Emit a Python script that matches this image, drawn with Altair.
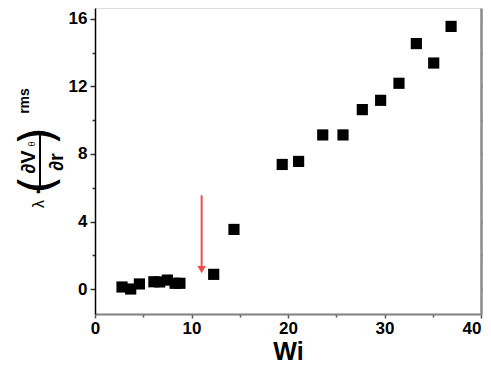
import altair as alt
import pandas as pd

# Data
wi = [2.8, 3.7, 4.6, 6.1, 6.7, 7.5, 8.3, 8.8, 12.3, 14.4,
      19.4, 21.1, 23.6, 25.7, 27.7, 29.6, 31.5, 33.3, 35.1, 36.9]
val = [0.12, 0.0, 0.3, 0.43, 0.42, 0.53, 0.34, 0.34, 0.87, 3.53,
       7.38, 7.56, 9.13, 9.13, 10.63, 11.18, 12.19, 14.54, 13.39, 15.56]

arrow_x = [11.05]
arrow_top = [5.55]
arrow_bottom = [1.3]
arrow_head = [1.15]

x_ticks = [0, 5, 10, 15, 20, 25, 30, 35, 40]
y_ticks = [0, 2, 4, 6, 8, 10, 12, 14, 16]

df = pd.DataFrame({"wi": wi, "val": val})
arrow_df = pd.DataFrame({"x": arrow_x, "y1": arrow_top, "y2": arrow_bottom, "yh": arrow_head})

FONT = "Liberation Sans"
xscale = alt.Scale(domain=[0, 40], nice=False, zero=False)
yscale = alt.Scale(domain=[-1.48, 16.65], nice=False, zero=False)

x_axis = alt.Axis(
    values=x_ticks,
    labelExpr="datum.value % 10 === 0 ? datum.label : ''",
    tickSize={"condition": {"test": "datum.value % 10 === 0", "value": 4}, "value": 3},
    title="Wi", titleFont=FONT, titleFontSize=25, titleFontWeight="bold",
    titlePadding=3, titleColor="black",
    labelFont=FONT, labelFontSize=17, labelFontWeight="bold", labelColor="black",
    labelAlign={"condition": {"test": "datum.value === 40", "value": "right"}, "value": "center"},
    labelPadding=2, grid=False, domainColor="#808080", domainWidth=2,
    tickColor="#555555", tickWidth=1.5, labelFlush=False,
)
y_axis = alt.Axis(
    values=y_ticks,
    labelExpr="datum.value % 4 === 0 ? datum.label : ''",
    tickSize={"condition": {"test": "datum.value % 4 === 0", "value": 5}, "value": 3},
    title=None, labelFont=FONT, labelFontSize=17, labelFontWeight="bold",
    labelColor="black", labelPadding=3, grid=False, domainColor="black",
    domainWidth=1.5, tickColor="#333333", tickWidth=1.5,
)
y_axis_right = alt.Axis(
    orient="right", values=y_ticks, labels=False,
    title=None, grid=False, domainColor="#8a8a8a", domainWidth=2.5,
    tickColor="#9a9a9a", tickSize=2, tickWidth=1.5,
)

points = alt.Chart(df).mark_square(size=125, color="black", opacity=1).encode(
    x=alt.X("wi:Q", scale=xscale, axis=x_axis),
    y=alt.Y("val:Q", scale=yscale, axis=y_axis),
)
right_axis = alt.Chart(df).mark_point(opacity=0).encode(
    x=alt.X("wi:Q", scale=xscale),
    y=alt.Y("val:Q", scale=yscale, axis=y_axis_right),
)
arrow_line = alt.Chart(arrow_df).mark_rule(color="#f24a4a", strokeWidth=2).encode(
    x=alt.X("x:Q", scale=xscale),
    y=alt.Y("y1:Q", scale=yscale, axis=None),
    y2="y2:Q",
)
arrow_tip = alt.Chart(arrow_df).mark_point(
    shape="triangle-down", filled=True, size=70, color="#f24a4a", opacity=1
).encode(
    x=alt.X("x:Q", scale=xscale),
    y=alt.Y("yh:Q", scale=yscale, axis=None),
)

# Y-axis label: lambda . (dV_theta / dr)^rms, rotated, built from text pieces
def label(txt, px, py, size, weight="bold", font=FONT):
    return alt.Chart(pd.DataFrame({"t": [txt]})).mark_text(
        angle=270, font=font, fontSize=size, fontWeight=weight, color="black",
        align="center", baseline="middle",
    ).encode(text="t:N", x=alt.value(px), y=alt.value(py))

lab = [
    label("λ", -56, 196, 16, "normal"),
    label("·", -56, 183, 22),
    label("(", -55, 177, 48, "normal", "DejaVu Sans"),
    label("∂V", -66, 154, 20),
    label("θ", -63, 136, 9, "normal"),
    label("∂r", -38, 154, 20),
    label(")", -55, 128, 48, "normal", "DejaVu Sans"),
    label("rms", -70, 93, 14),
]
frac_line = alt.Chart(pd.DataFrame({"a": [0]})).mark_rule(color="black", strokeWidth=2).encode(
    x=alt.value(-55), y=alt.value(126), y2=alt.value(180)
)

chart = alt.layer(
    points, right_axis, arrow_line, arrow_tip, frac_line, *lab
).resolve_scale(y="independent").properties(
    width=386, height=306,
    autosize=alt.AutoSizeParams(type="none"),
    padding={"left": 87, "top": 0, "right": 2, "bottom": 51},
).configure_view(stroke="black", strokeWidth=1.5).configure(background="white")

chart.save("out.html", embed_options={"renderer": "svg", "actions": False})
